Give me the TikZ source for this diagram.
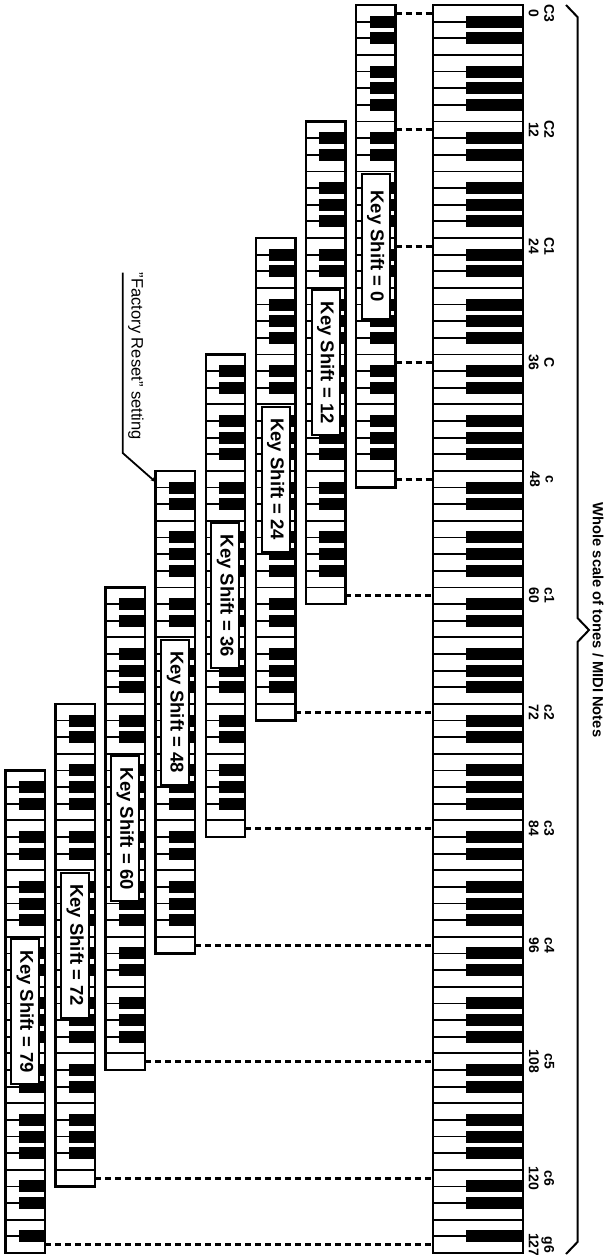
\documentclass[tikz,border=0pt]{standalone}
\usepackage{fontspec}
\setmainfont{Liberation Sans}
\usetikzlibrary{arrows.meta}
\def\wk{16.64}
\def\bk{12}
% #1 left x, #2 right x, #3 black-key start x, #4 top y, #5 index of first white key (0=C), #6 number of white keys
\newcommand\kbd[6]{%
  \pgfmathtruncatemacro\kbn{#6-1}%
  \foreach \i in {1,...,\kbn}{\draw[keyline] (#1,{#4+\i*\wk}) -- (#2,{#4+\i*\wk});}%
  \pgfmathtruncatemacro\kbm{#6-2}%
  \foreach \i in {0,...,\kbm}{%
    \pgfmathtruncatemacro\nn{mod(#5+\i,7)}%
    \ifnum\nn=2 \else\ifnum\nn=6 \else
      \fill (#3,{#4+(\i+1)*\wk-\bk/2}) rectangle (#2,{#4+(\i+1)*\wk+\bk/2});
    \fi\fi}%
  \draw[kbborder] (#1,#4) rectangle (#2,{#4+#6*\wk});%
}
\tikzset{
  keyline/.style={line width=1.8pt},
  kbborder/.style={line width=2.4pt},
  link/.style={line width=3pt, dash pattern=on 6pt off 4pt},
  shiftbox/.style={draw, fill=white, line width=2pt, rotate=-90,
    minimum width=145pt, minimum height=28pt, inner sep=0pt,
    font=\bfseries\fontsize{18.5}{20}\selectfont},
  notelabel/.style={rotate=-90, align=center, inner sep=0pt,
    font=\bfseries\fontsize{14}{15.5}\selectfont},
  bracket/.style={line width=2pt},
}
\begin{document}
\begin{tikzpicture}[x=1pt,y=-1pt]
\useasboundingbox (0,0) rectangle (613,1255);
\fill[white] (0,0) rectangle (613,1255);
% main keyboard
\kbd{433}{523}{466}{5}{0}{75}
% shifted keyboards (C to C)
\foreach \k/\ks in {0/0,1/12,2/24,3/36,4/48,5/60,6/72}{
  \pgfmathsetmacro\L{356-50.1*\k}
  \pgfmathsetmacro\T{5+7*\k*\wk}
  \kbd{\L}{\L+39.5}{\L+13.5}{\T}{0}{29}
  \coordinate (s\k) at ({\L+39.5},{5+(7*(\k+4)+0.5)*\wk});
  \coordinate (m\k) at (433,{5+(7*(\k+4)+0.5)*\wk});
  \draw[link] (s\k) -- (m\k);
  \node[shiftbox] (ks\k) at ({\L+19.75},{\T+14.5*\wk}) {Key Shift = \ks};
}
% Key Shift = 0 : links at every C
\foreach \j in {0,1,2,3}{
  \coordinate (z\j) at (395.5,{5+(7*\j+0.5)*\wk});
  \coordinate (y\j) at (433,{5+(7*\j+0.5)*\wk});
  \draw[link] (z\j) -- (y\j);
}
% Key Shift = 79 : G to G
\pgfmathsetmacro\L{5.3}
\pgfmathsetmacro\T{5+46*\wk}
\kbd{\L}{\L+39.5}{\L+13.5}{\T}{4}{29}
\coordinate (s7) at ({\L+39.5},{5+74.5*\wk});
\coordinate (m7) at (433,{5+74.5*\wk});
\draw[link] (s7) -- (m7);
\node[shiftbox] (ks7) at ({\L+19.75},{\T+14.5*\wk}) {Key Shift = 79};
% note labels
\foreach \n/\num/\idx in {C3/0/0,C2/12/7,C1/24/14,C/36/21,c/48/28,c1/60/35,c2/72/42,c3/84/49,c4/96/56,c5/108/63,c6/120/70,g6/127/74}{
  \node[notelabel] (lab\idx) at (541.5,{5+(\idx+0.5)*\wk}) {\n\\\num};
}
% bracket and title
\coordinate (b1) at (566,5);
\coordinate (b2) at (577.5,17);
\coordinate (b3) at (577.5,618);
\coordinate (b4) at (589,630);
\coordinate (b5) at (577.5,642);
\coordinate (b6) at (577.5,1242);
\coordinate (b7) at (566,1254);
\draw[bracket] (b1) -- (b2) -- (b3) -- (b4) -- (b5) -- (b6) -- (b7);
\node[rotate=-90, inner sep=0pt, font=\bfseries\fontsize{14.7}{16}\selectfont] (title) at (598,620) {Whole scale of tones / MIDI Notes};
% factory reset pointer
\node[rotate=-90, anchor=west, inner sep=0pt, font=\fontsize{16.5}{18}\selectfont] (fr) at (136,272.7) {"Factory Reset" setting};
\coordinate (p1) at (122.7,272.7);
\coordinate (p2) at (122.7,453);
\coordinate (p3) at (155.6,482);
\draw[line width=1.8pt, -{Stealth[length=5pt,width=4pt]}] (p1) -- (p2) -- (p3);
\end{tikzpicture}
\end{document}
